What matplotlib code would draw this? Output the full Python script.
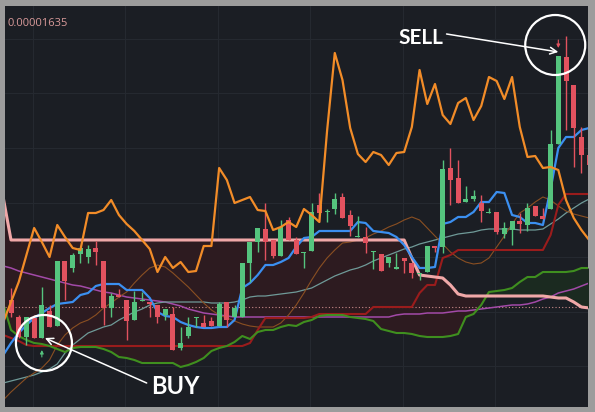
import numpy as np
import matplotlib
matplotlib.use("Agg")
import matplotlib.pyplot as plt

# ---------------- data (price levels, arbitrary chart units) ----------------
opens = [110, 93, 73, 92, 72, 99, 84, 149, 142, 156,
         153, 162, 149, 102, 115, 110, 90, 109, 108, 105,
         95, 96, 62, 74, 92, 87, 89, 84, 108, 93,
         93, 147, 168, 181, 170, 154, 190, 170, 157, 159,
         205, 198, 201, 213, 195, 173, 173, 158, 156, 147,
         141, 152, 147, 136, 138, 164, 163, 242, 232, 208,
         211, 207, 197, 198, 176, 180, 189, 185, 204, 194,
         201, 266, 353, 325, 273, 255]
highs = [122, 95, 93, 95, 123, 105, 149, 149, 157, 162,
         165, 169, 149, 117, 121, 110, 119, 118, 108, 105,
         101, 103, 83, 93, 93, 95, 93, 108, 108, 105,
         147, 168, 182, 207, 170, 190, 193, 173, 158, 207,
         217, 201, 217, 217, 200, 194, 183, 159, 156, 153,
         157, 152, 147, 137, 164, 164, 250, 262, 250, 224,
         220, 215, 202, 198, 188, 189, 197, 207, 204, 202,
         280, 354, 374, 325, 283, 260]
lows = [93, 72, 65, 72, 72, 83, 84, 110, 138, 147,
        147, 145, 85, 93, 113, 70, 90, 109, 93, 87,
        90, 60, 60, 72, 83, 83, 84, 84, 83, 93,
        93, 128, 158, 150, 152, 154, 170, 156, 142, 159,
        188, 188, 196, 192, 174, 173, 157, 141, 139, 143,
        141, 137, 132, 130, 138, 158, 157, 205, 207, 208,
        209, 188, 197, 176, 172, 165, 177, 179, 194, 191,
        201, 266, 280, 243, 237, 230]
closes = [97, 73, 93, 72, 105, 83, 149, 129, 155, 162,
          161, 158, 102, 114, 113, 89, 108, 110, 106, 93,
          101, 60, 67, 83, 93, 83, 84, 106, 90, 102,
          147, 168, 182, 168, 154, 183, 170, 156, 158, 198,
          197, 199, 211, 192, 184, 174, 167, 159, 139, 153,
          143, 149, 137, 137, 164, 162, 241, 230, 207, 211,
          214, 199, 198, 178, 182, 189, 186, 202, 194, 191,
          266, 354, 329, 282, 255, 245]

# indicator lines (first value belongs to the bar before the first candle)
orange_line = [88, 108, 128, 155, 182, 168, 153, 185, 173, 162, 160, 197, 197, 200, 210,
               195, 186, 179, 170, 161, 138, 153, 142, 148, 138, 139, 164, 164, 242, 230,
               207, 210, 213, 200, 199, 180, 183, 188, 183, 201, 195, 188, 279, 357, 330,
               282, 256, 248, 258, 255, 245, 257, 258, 283, 340, 306, 326, 295, 286, 307,
               312, 290, 304, 333, 329, 311, 333, 283, 253, 254, 242, 243, 240, 210, 192,
               180, 170]
blue_line = [55, 67, 77, 85, 92, 97, 102, 106, 107, 108, 115, 117, 124, 126, 126, 126,
             120, 120, 120, 112, 98, 94, 93, 88, 85, 83, 82, 82, 83, 83, 90, 122, 127,
             135, 145, 145, 148, 152, 163, 172, 173, 179, 179, 179, 179, 179, 188, 187,
             179, 178, 177, 173, 165, 153, 142, 142, 143, 186, 188, 193, 193, 198, 208,
             208, 218, 217, 195, 193, 187, 187, 185, 221, 262, 273, 273, 280, 282]
span_a = [212] + [170] * 52 + [152, 135, 134, 133, 132, 125, 116] + [114] * 11 + \
         [113, 112, 112, 108, 103, 102]
span_b = [106, 80, 74, 70, 67, 66, 64, 61, 58, 62, 63, 63, 63, 61, 58, 53, 52, 50, 47,
          47, 47, 47, 47, 43, 45, 48, 52, 59, 62, 64, 68, 74, 71, 78, 80, 80, 83, 85, 84,
          88, 90, 94, 95, 95, 95, 93, 92, 91, 89, 81, 79, 77, 77, 76, 74, 73, 73, 73, 74,
          76, 93, 96, 105, 118, 119, 120, 122, 128, 133, 133, 138, 138, 138, 138, 139,
          142, 142]
darkred_line = [75, 72, 69, 65] + [64] * 28 + [67, 80] + [92] * 6 + [93] + [96] * 7 + \
               [103] * 6 + [117, 125, 125, 152, 155] + [160] * 12 + [175, 205] + [216] * 4
brown_line = [10, 18, 25, 32, 37, 42, 50, 65, 75, 82, 87, 90, 95, 102, 107, 113, 118, 127,
              135, 142, 145, 143, 137, 130, 123, 115, 107, 100, 95, 92, 89, 86, 84, 83, 83,
              83, 87, 95, 105, 117, 130, 142, 152, 160, 167, 168, 170, 172, 176, 179, 183,
              186, 190, 193, 190, 182, 174, 166, 158, 152, 148, 146, 147, 152, 163, 174,
              186, 197, 202, 208, 213, 210, 204, 199, 196, 194, 192]
teal_line = [27, 29, 31, 33, 35, 38, 41, 46, 57, 65, 71, 77, 80, 83, 85, 90, 94, 98, 101,
             105, 107, 108, 108, 108, 108, 108, 108, 107, 107, 107, 108, 110, 113, 114, 114,
             115, 116, 117, 118, 120, 122, 126, 130, 134, 137, 140, 142, 145, 149, 152, 155,
             158, 161, 163, 166, 168, 170, 172, 174, 176, 177, 178, 180, 181, 181, 181, 181,
             180, 180, 180, 181, 186, 191, 197, 202, 207, 211]
purple_line = [144, 142, 139, 137, 135, 133, 131, 129, 127, 125, 124, 122, 120, 118, 117,
               115, 113, 112, 111, 110, 109, 108, 106, 104, 101, 99, 97, 96, 95, 94] + \
              [93] * 21 + \
              [95, 96, 96, 96, 97, 97, 97, 98, 99, 99, 100, 101, 102, 103, 104, 105, 105,
               106, 108, 111, 113, 117, 119, 121, 124, 127]
last_price = 103
price_label = "0.00001635"
buy_bar, sell_bar = 4, 71

# ---------------- styling ----------------
BG = '#1b1e24'
GREEN = '#55c47e'
RED = '#e2525f'

fig = plt.figure(figsize=(5.95, 4.12), dpi=100, facecolor='#9c9c9c')
ax = fig.add_axes([5 / 595, 5 / 412, 583 / 595, 401 / 412])
ax.set_facecolor(BG)
ax.set_xlim(-0.78, 74.64)
ax.set_ylim(3, 404)
for s in ax.spines.values():
    s.set_visible(False)
ax.set_xticks(np.arange(2.85, 75, 12))
ax.set_yticks([44, 98, 153, 207, 262, 317, 371])
ax.tick_params(length=0, labelbottom=False, labelleft=False)
ax.grid(True, color='#252930', lw=0.8)
ax.set_axisbelow(True)

lx = np.arange(len(orange_line)) - 1
cx = np.arange(len(opens))
sa = np.array(span_a, float)
sb = np.array(span_b, float)

ax.fill_between(lx, sa, sb, where=sa >= sb, interpolate=True, color='#2d1b20', lw=0, zorder=1)
ax.fill_between(lx, sa, sb, where=sa < sb, interpolate=True, color='#1b2a20', lw=0, zorder=1)

ax.axhline(last_price, color='#c98a8a', lw=0.8, ls=(0, (1, 2)), zorder=2)

ax.plot(lx, purple_line, color='#a24aa8', lw=1.1, zorder=3)
ax.plot(lx, teal_line, color='#6f9a98', lw=0.9, zorder=3)
ax.plot(lx, brown_line, color='#8a4f22', lw=0.8, zorder=3)
ax.plot(lx, darkred_line, color='#9a1c1c', lw=1.5, zorder=3)
ax.plot(lx, span_b, color='#3f8f1f', lw=1.5, zorder=3)
ax.plot(lx, span_a, color='#f0a8a8', lw=2.2, zorder=3)
ax.plot(lx, blue_line, color='#3b8ff0', lw=1.6, zorder=4)

o = np.array(opens, float); c = np.array(closes, float)
h = np.array(highs, float); l = np.array(lows, float)
cols = np.where(c >= o, GREEN, RED)
ax.vlines(cx, l, h, colors=cols, lw=1.0, zorder=5)
ax.bar(cx, np.maximum(np.abs(c - o), 1.5), bottom=np.minimum(o, c), width=0.65,
       color=cols, lw=0, zorder=6)

ax.plot(lx, orange_line, color='#f28c28', lw=1.6, zorder=7)

# buy / sell markers
ax.annotate('', xy=(sell_bar, highs[sell_bar] + 8), xytext=(sell_bar, highs[sell_bar] + 16),
            arrowprops=dict(arrowstyle='-|>', color=RED, lw=0.8, mutation_scale=5,
                            shrinkA=0, shrinkB=0), zorder=8)
ax.annotate('', xy=(buy_bar, lows[buy_bar] - 12), xytext=(buy_bar, lows[buy_bar] - 19),
            arrowprops=dict(arrowstyle='-|>', color=GREEN, lw=0.8, mutation_scale=5,
                            shrinkA=0, shrinkB=0), zorder=8)

# annotations
ax.scatter([70.6], [365], s=1866, facecolors='none', edgecolors='white', linewidths=1.6, zorder=10)
ax.scatter([4.27], [67], s=1625, facecolors='none', edgecolors='white', linewidths=1.6, zorder=10)
ax.annotate('', xy=(71.0, 358), xytext=(56.5, 376),
            arrowprops=dict(arrowstyle='->', color='white', lw=1.1, mutation_scale=12,
                            shrinkA=0, shrinkB=0), zorder=10)
ax.annotate('', xy=(4.4, 72), xytext=(17.6, 27),
            arrowprops=dict(arrowstyle='->', color='white', lw=1.1, mutation_scale=12,
                            shrinkA=0, shrinkB=0), zorder=10)
ax.text(53.2, 372.5, 'SELL', ha='center', va='center', fontsize=15, color='white',
        family='Lato', weight='bold', zorder=11)
ax.text(21.3, 23.5, 'BUY', ha='center', va='center', fontsize=17, color='white',
        family='Lato', weight='bold', zorder=11)

fig.text(8 / 595, 388 / 412, price_label, ha='left', va='center', fontsize=8,
         color='#d99a9a', family='Open Sans')

fig.savefig('out.png', dpi=100, facecolor=fig.get_facecolor())
